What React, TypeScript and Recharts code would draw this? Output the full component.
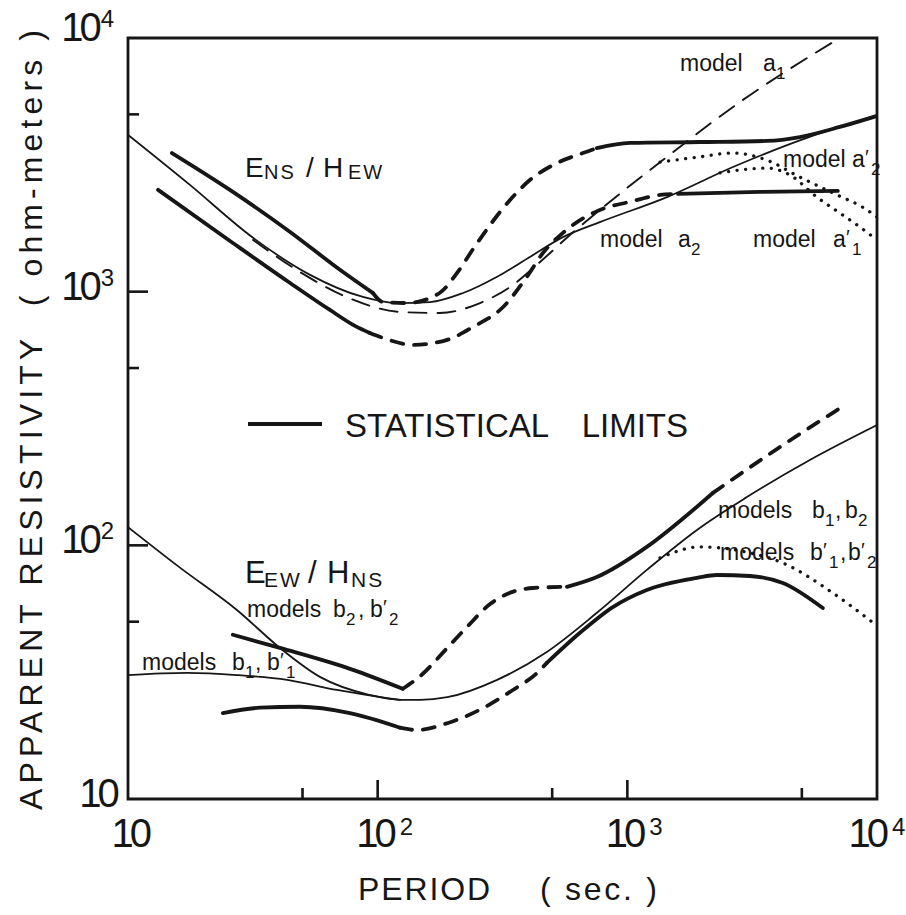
import React from "react";
import { LineChart, Line, XAxis, YAxis, ReferenceArea } from "recharts";

type Pair = [number, number];

// E_NS / H_EW curves: [period (sec), apparent resistivity (ohm-m)]
const modelA2: Pair[] = [[10, 4150], [17.7, 2635], [31.7, 1630], [53.6, 1165], [87.3, 953], [119, 902], [162, 910], [220, 988], [301, 1145], [407, 1370], [552, 1640], [776, 1880], [1442, 2360], [2649, 3100], [5236, 4040], [10000, 4930]];
const modelA1: Pair[] = [[31.7, 1600], [48.9, 1195], [77.4, 940], [123, 832], [177, 824], [257, 902], [339, 1043], [447, 1309], [589, 1673], [776, 2100], [1352, 3240], [2904, 5700], [7096, 10000]];
const modelA2p: Pair[] = [[1352, 3240], [1954, 3400], [2649, 3520], [3622, 3300], [4909, 2830], [6653, 2450], [9120, 2100], [10000, 1968]];
const modelA1p: Pair[] = [[2350, 2940], [3622, 3070], [4479, 2885], [5742, 2360], [7096, 2042], [8531, 1800], [9640, 1643]];

// statistical limits for E_NS / H_EW (solid where observed, dashed where inferred)
const upperA1: Pair[] = [[15.0, 3520], [25.6, 2520], [44.6, 1720], [70.6, 1220], [95.7, 988]];
const upperA2: Pair[] = [[95.7, 988], [105, 910], [131, 902], [177, 988], [208, 1185], [241, 1472], [282, 1832], [339, 2300], [407, 2754], [522, 3210], [664, 3520], [755, 3680]];
const upperA3: Pair[] = [[755, 3680], [1023, 3860], [1954, 3890], [3622, 3930], [4909, 4070], [7096, 4460], [10000, 4930]];
const lowerA1: Pair[] = [[13.2, 2520], [26.3, 1556], [44.6, 1082], [64.4, 847], [81.1, 733], [93.1, 687]];
const lowerA2: Pair[] = [[93.1, 687], [105, 657], [138, 617], [190, 646], [241, 726], [318, 870], [396, 1145], [459, 1420], [552, 1705], [776, 2100], [1023, 2260], [1352, 2405], [1596, 2430]];
const lowerA3: Pair[] = [[1596, 2430], [3396, 2472], [6966, 2495]];

// E_EW / H_NS curves
const modelB2: Pair[] = [[10, 118], [16.2, 81.5], [27.3, 55.6], [40.6, 39.4], [58.7, 30.3], [93.1, 25.7], [123, 24.6], [148, 24.6], [190, 25.2], [301, 29.5], [476, 38.0], [755, 54.2], [1197, 80.0], [1901, 115], [3013, 155], [5383, 217], [10000, 298]];
const modelB1: Pair[] = [[10, 30.8], [17.2, 31.4], [27.3, 30.8], [43.4, 29.5], [68.7, 26.9], [109, 25.0], [123, 24.6]];
const modelBp: Pair[] = [[1352, 89.2], [1954, 98.6], [3097, 93.4], [4198, 85.2], [6653, 64.9], [9550, 49.9]];

const upperB1: Pair[] = [[26.3, 44.4], [40.6, 39.4], [79.6, 32.3], [126, 27.2]];
const upperB2: Pair[] = [[126, 27.2], [148, 30.5], [190, 39.4], [228, 47.7], [282, 58.7], [330, 64.3], [419, 67.9], [573, 68.6]];
const upperB3: Pair[] = [[573, 68.6], [755, 75.0], [1197, 98.6], [1901, 142], [2203, 161]];
const upperB4: Pair[] = [[2203, 161], [4083, 244], [7430, 357]];
const lowerB1: Pair[] = [[24.0, 21.8], [33.8, 22.9], [48.9, 23.1], [77.4, 21.8], [123, 19.1]];
const lowerB2: Pair[] = [[123, 19.1], [144, 18.7], [190, 19.9], [257, 22.5], [348, 26.9], [435, 31.4], [476, 34.4]];
const lowerB3: Pair[] = [[476, 34.4], [646, 45.2], [875, 57.1], [1197, 66.7], [1901, 74.4], [2286, 76.4], [3097, 75.7], [4198, 71.1], [6068, 56.6]];

const X_TICKS = [10, 50, 100, 500, 1000, 5000, 10000];
const Y_TICKS = [10, 50, 100, 500, 1000, 5000, 10000];

const INK = "#161616";
const FONT = "'Liberation Sans', Arial, sans-serif";

const STYLES = {
  thin: { strokeWidth: 1.8 },
  thinDash: { strokeWidth: 1.9, strokeDasharray: "18 11" },
  thick: { strokeWidth: 3.8 },
  thickDash: { strokeWidth: 3.8, strokeDasharray: "12 11" },
  dot: { strokeWidth: 3.3, strokeDasharray: "0.1 8.5" },
};

const SERIES: { id: string; kind: keyof typeof STYLES; data: Pair[] }[] = [
  { id: "a2", kind: "thin", data: modelA2 },
  { id: "a1", kind: "thinDash", data: modelA1 },
  { id: "a2p", kind: "dot", data: modelA2p },
  { id: "a1p", kind: "dot", data: modelA1p },
  { id: "ua1", kind: "thick", data: upperA1 },
  { id: "ua2", kind: "thickDash", data: upperA2 },
  { id: "ua3", kind: "thick", data: upperA3 },
  { id: "la1", kind: "thick", data: lowerA1 },
  { id: "la2", kind: "thickDash", data: lowerA2 },
  { id: "la3", kind: "thick", data: lowerA3 },
  { id: "b2", kind: "thin", data: modelB2 },
  { id: "b1", kind: "thin", data: modelB1 },
  { id: "bp", kind: "dot", data: modelBp },
  { id: "ub1", kind: "thick", data: upperB1 },
  { id: "ub2", kind: "thickDash", data: upperB2 },
  { id: "ub3", kind: "thick", data: upperB3 },
  { id: "ub4", kind: "thickDash", data: upperB4 },
  { id: "lb1", kind: "thick", data: lowerB1 },
  { id: "lb2", kind: "thickDash", data: lowerB2 },
  { id: "lb3", kind: "thick", data: lowerB3 },
];

const toPts = (arr: Pair[]) => arr.map(([p, r]) => ({ p, r }));

const decade = (v: number) => {
  const e = Math.log10(v);
  return Math.abs(e - Math.round(e)) < 1e-6 ? Math.round(e) : null;
};

// ticks point inward from the frame; decades get a longer tick and a 10^n label
function XTick(props: any) {
  const { x, y, payload } = props;
  const v = payload.value as number;
  const exp = decade(v);
  const len = exp !== null ? 19 : 11;
  const shift = v === 10 ? 5 : v === 10000 ? -7 : 0;
  return (
    <g fontFamily={FONT} fill={INK}>
      {v > 10 && v < 10000 && (
        <line x1={x} y1={y} x2={x} y2={y - len} stroke={INK} strokeWidth={2.6} />
      )}
      {exp !== null && (
        <text x={x + shift - 21.5} y={y + 48} fontSize={40} letterSpacing={-4}>
          10
          {exp > 1 && (
            <tspan dx={7} dy={-12} fontSize={24} letterSpacing={0}>
              {exp}
            </tspan>
          )}
        </text>
      )}
    </g>
  );
}

function YTick(props: any) {
  const { x, y, payload } = props;
  const v = payload.value as number;
  const exp = decade(v);
  const len = exp !== null ? 20 : 11;
  const base = v === 10000 ? y + 3 : y + 8;
  return (
    <g fontFamily={FONT} fill={INK}>
      {v > 10 && v < 10000 && (
        <line x1={x} y1={y} x2={x + len} y2={y} stroke={INK} strokeWidth={2.6} />
      )}
      {exp === 1 && (
        <text x={x - 48.7} y={base} fontSize={40} letterSpacing={-4}>
          10
        </text>
      )}
      {exp !== null && exp > 1 && (
        <text x={x - 66.7} y={base} fontSize={40} letterSpacing={-4}>
          10
          <tspan dx={3} dy={-14} fontSize={24} letterSpacing={0}>
            {exp}
          </tspan>
        </text>
      )}
    </g>
  );
}

type Sym = { x: number; ch: string; sub?: string; prime?: boolean };

// "model a1'" style labels: one text element, prime then subscript as tspans
function Tag({ x, y, word, syms }: { x: number; y: number; word: string; syms: Sym[] }) {
  const parts: React.ReactNode[] = [];
  syms.forEach((s, i) => {
    parts.push(
      <tspan key={`c${i}`} x={s.x} y={y}>
        {s.ch}
      </tspan>
    );
    if (s.prime)
      parts.push(
        <tspan key={`p${i}`} x={s.x + 13} y={y - 3} fontSize={20}>
          ′
        </tspan>
      );
    if (s.sub)
      parts.push(
        <tspan key={`s${i}`} x={s.x + (s.prime ? 19 : 13)} y={y + 8} fontSize={17}>
          {s.sub}
        </tspan>
      );
  });
  return (
    <text x={x} y={y} fontSize={23}>
      {word}
      {parts}
    </text>
  );
}

function Annotations() {
  return (
    <svg
      width={906}
      height={915}
      style={{ position: "absolute", left: 0, top: 0, pointerEvents: "none" }}
      fontFamily={FONT}
      fill={INK}
    >
      {/* group titles */}
      <text fontSize={28}>
        <tspan x={245} y={177}>E</tspan>
        <tspan x={264} y={179} fontSize={20} letterSpacing={2}>NS</tspan>
        <tspan x={306} y={177}>/</tspan>
        <tspan x={323} y={177}>H</tspan>
        <tspan x={348} y={179} fontSize={20} letterSpacing={2}>EW</tspan>
      </text>
      <text fontSize={31}>
        <tspan x={245} y={583}>E</tspan>
        <tspan x={264} y={587} fontSize={21} letterSpacing={2}>EW</tspan>
        <tspan x={308} y={583}>/</tspan>
        <tspan x={327} y={583}>H</tspan>
        <tspan x={351} y={587} fontSize={21} letterSpacing={2}>NS</tspan>
      </text>

      {/* legend */}
      <line x1={248} y1={424} x2={322} y2={424} stroke={INK} strokeWidth={3.8} />
      <text x={345} y={437} fontSize={33}>STATISTICAL</text>
      <text x={688} y={437} fontSize={33} textAnchor="end">LIMITS</text>

      {/* model labels */}
      <Tag x={680} y={71} word="model" syms={[{ x: 763, ch: "a", sub: "1" }]} />
      <Tag x={783} y={167} word="model" syms={[{ x: 852, ch: "a", sub: "2", prime: true }]} />
      <Tag x={600} y={247} word="model" syms={[{ x: 678, ch: "a", sub: "2" }]} />
      <Tag x={753} y={247} word="model" syms={[{ x: 833, ch: "a", sub: "1", prime: true }]} />
      <Tag x={247} y={617} word="models" syms={[{ x: 333, ch: "b", sub: "2" }, { x: 358, ch: "," }, { x: 370, ch: "b", sub: "2", prime: true }]} />
      <Tag x={142} y={670} word="models" syms={[{ x: 232, ch: "b", sub: "1" }, { x: 255, ch: "," }, { x: 267, ch: "b", sub: "1", prime: true }]} />
      <Tag x={718} y={518} word="models" syms={[{ x: 812, ch: "b", sub: "1" }, { x: 835, ch: "," }, { x: 845, ch: "b", sub: "2" }]} />
      <Tag x={720} y={560} word="models" syms={[{ x: 810, ch: "b", sub: "1", prime: true }, { x: 840, ch: "," }, { x: 848, ch: "b", sub: "2", prime: true }]} />

      {/* axis titles */}
      <text x={358} y={900} fontSize={32} textLength={132} lengthAdjust="spacing">PERIOD</text>
      <text x={540} y={900} fontSize={32} textLength={117} lengthAdjust="spacing">( sec. )</text>
      <text
        transform="translate(42,420) rotate(-90)"
        textAnchor="middle"
        fontSize={32}
        textLength={780}
        lengthAdjust="spacing"
        xmlSpace="preserve"
      >
        APPARENT RESISTIVITY  ( ohm-meters )
      </text>
    </svg>
  );
}

export default function App() {
  return (
    <div style={{ position: "absolute", left: 0, top: 0, width: 906, height: 915, background: "#fff" }}>
      <LineChart width={906} height={915} margin={{ top: 38, right: 29, bottom: 36, left: 28 }}>
        <XAxis
          dataKey="p"
          type="number"
          scale="log"
          domain={[10, 10000]}
          allowDataOverflow
          ticks={X_TICKS}
          interval={0}
          axisLine={false}
          tickLine={false}
          tickSize={0}
          tickMargin={0}
          height={80}
          tick={XTick}
        />
        <YAxis
          type="number"
          scale="log"
          domain={[10, 10000]}
          allowDataOverflow
          ticks={Y_TICKS}
          interval={0}
          axisLine={false}
          tickLine={false}
          tickSize={0}
          tickMargin={0}
          width={100}
          tick={YTick}
        />
        <ReferenceArea x1={10} x2={10000} y1={10} y2={10000} fill="none" stroke={INK} strokeWidth={2.8} />
        {SERIES.map((s) => (
          <Line
            key={s.id}
            data={toPts(s.data)}
            dataKey="r"
            type="monotone"
            stroke={INK}
            dot={false}
            activeDot={false}
            strokeLinecap="round"
            strokeLinejoin="round"
            isAnimationActive={false}
            {...STYLES[s.kind]}
          />
        ))}
      </LineChart>
      <Annotations />
    </div>
  );
}
